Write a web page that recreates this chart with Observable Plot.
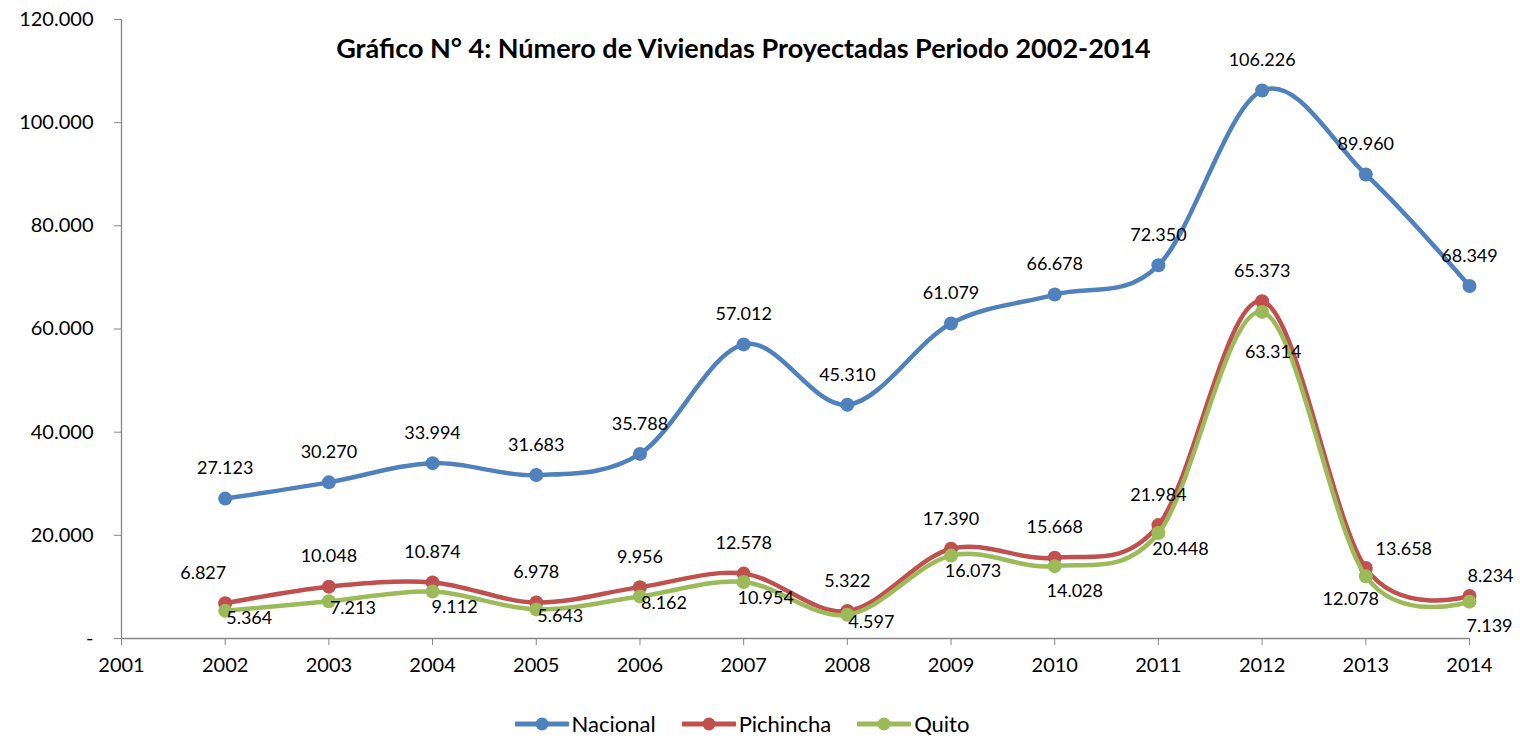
<!DOCTYPE html>
<html>
<head>
<meta charset="utf-8">
<script src="https://cdn.jsdelivr.net/npm/d3@7"></script>
<script src="https://cdn.jsdelivr.net/npm/@observablehq/plot@0.6"></script>
<style>
  html, body { margin: 0; padding: 0; background: white; }
  body { width: 1520px; height: 739px; overflow: hidden; font-family: Lato, "Open Sans", sans-serif; }
  #legend { display: flex; justify-content: center; align-items: center; height: 39px; padding-top: 4px; font-size: 22px; color: black; padding-right: 36px; }
  .item { display: flex; align-items: center; margin: 0 13px; }
  .item svg { margin-right: 3px; }
</style>
</head>
<body>
<div id="chart"></div>
<div id="legend"></div>
<script>
const title = "Gráfico N° 4: Número de Viviendas Proyectadas Periodo 2002-2014";
const years = [2002, 2003, 2004, 2005, 2006, 2007, 2008, 2009, 2010, 2011, 2012, 2013, 2014];
const nacional = [27123, 30270, 33994, 31683, 35788, 57012, 45310, 61079, 66678, 72350, 106226, 89960, 68349];
const pichincha = [6827, 10048, 10874, 6978, 9956, 12578, 5322, 17390, 15668, 21984, 65373, 13658, 8234];
const quito = [5364, 7213, 9112, 5643, 8162, 10954, 4597, 16073, 14028, 20448, 63314, 12078, 7139];
const seriesNames = ["Nacional", "Pichincha", "Quito"];
const xTicks = [2001, 2002, 2003, 2004, 2005, 2006, 2007, 2008, 2009, 2010, 2011, 2012, 2013, 2014];
const yTicks = [0, 20000, 40000, 60000, 80000, 100000, 120000];

// label placement codes per point
const nacionalPos = ["t","t","t","t","t","t","t","t","t","t","t","t","t"];
const pichinchaPos = ["tl","t","t","t","t","t","t","t","t","t","t","tr","tr2"];
const quitoPos = ["r","r","br","r","r","br","r","br","brr","br","bb","bl","brr"];

const colors = {Nacional: "#4F81BD", Pichincha: "#C0504D", Quito: "#9BBB59"};
const offsets = {t: [0, -30], tl: [-22, -30], tr: [38, -19], tr2: [21, -20], r: [24, 7], br: [22, 16], brr: [20, 25], bb: [11, 40], bl: [-15, 23]};

const fmt = n => n === 0 ? "-" : d3.format(",")(n).replace(/,/g, ".");

const valuesBySeries = {Nacional: nacional, Pichincha: pichincha, Quito: quito};
const posBySeries = {Nacional: nacionalPos, Pichincha: pichinchaPos, Quito: quitoPos};
const data = [];
for (const s of seriesNames) {
  years.forEach((yr, i) => data.push({series: s, year: yr, value: valuesBySeries[s][i], pos: posBySeries[s][i]}));
}

const marks = [
  Plot.axisY({ticks: yTicks, tickFormat: fmt, tickSize: 7, tickPadding: 21, stroke: "#868686", fill: "black", fontSize: 20, label: null}),
  Plot.axisX({ticks: xTicks, tickFormat: "d", tickSize: 7, tickPadding: 12, stroke: "#868686", fill: "black", fontSize: 20, label: null}),
  Plot.ruleX([2001], {stroke: "#868686", strokeWidth: 1.3}),
  Plot.ruleY([0], {stroke: "#868686", strokeWidth: 1.3}),
];
for (const s of seriesNames) {
  const d = data.filter(r => r.series === s);
  marks.push(Plot.line(d, {x: "year", y: "value", stroke: colors[s], strokeWidth: 4.5, curve: "cardinal", tension: 0}));
  marks.push(Plot.dot(d, {x: "year", y: "value", fill: colors[s], r: 7}));
}
for (const s of seriesNames) {
  const d = data.filter(r => r.series === s);
  for (const k of Object.keys(offsets)) {
    const dk = d.filter(r => r.pos === k);
    if (dk.length) marks.push(Plot.text(dk, {x: "year", y: "value", text: r => fmt(r.value), dx: offsets[k][0], dy: offsets[k][1], fontSize: 18, fill: "black"}));
  }
}
marks.push(Plot.text([title], {frameAnchor: "top", dx: -52, dy: 19, fontSize: 27, fontWeight: "bold", fill: "black"}));

const chart = Plot.plot({
  width: 1520,
  height: 700,
  marginLeft: 121,
  marginRight: 51,
  marginTop: 19,
  marginBottom: 62,
  x: {domain: [2001, 2014]},
  y: {domain: [0, 120000]},
  style: {fontFamily: "Lato, 'Open Sans', sans-serif", background: "white", color: "black"},
  marks
});
document.getElementById("chart").appendChild(chart);

const legend = document.getElementById("legend");
for (const s of seriesNames) {
  const item = document.createElement("div");
  item.className = "item";
  item.innerHTML = `<svg width="54" height="16"><line x1="1" y1="8" x2="53" y2="8" stroke="${colors[s]}" stroke-width="5" stroke-linecap="round"/><circle cx="27" cy="8" r="6.5" fill="${colors[s]}"/></svg><span>${s}</span>`;
  legend.appendChild(item);
}
</script>
</body>
</html>
